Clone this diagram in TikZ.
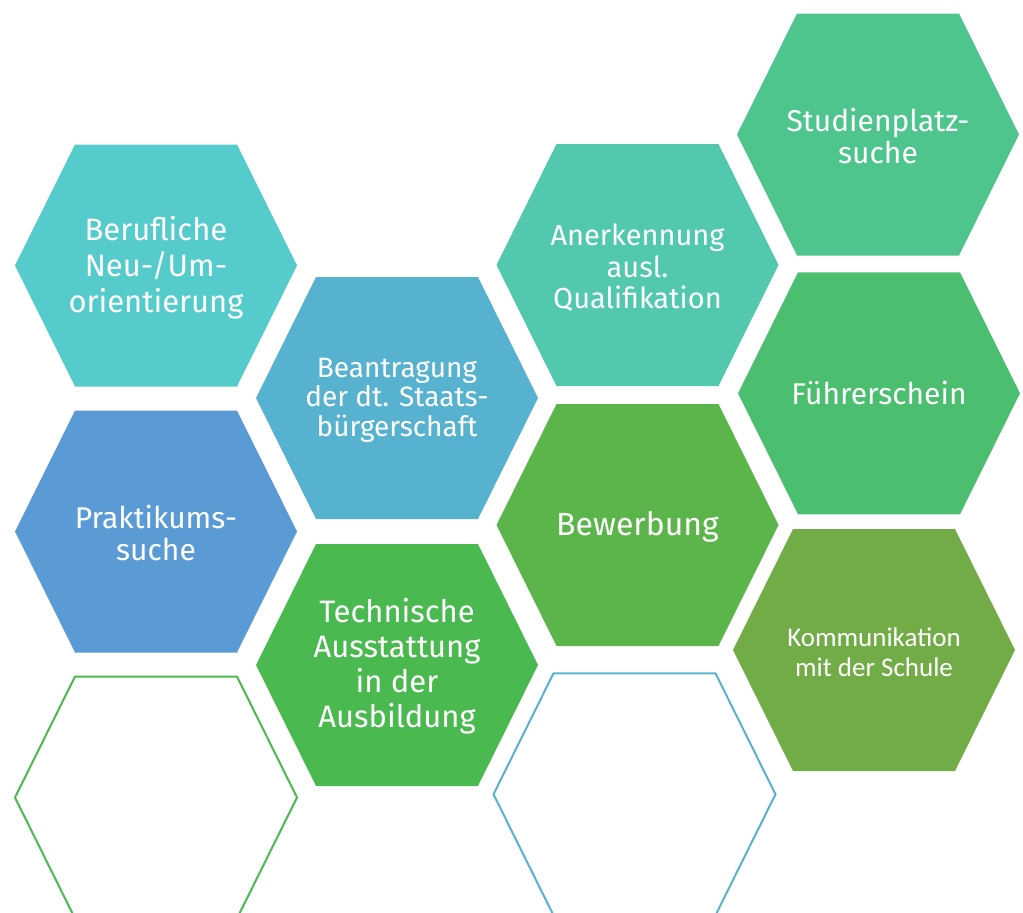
\documentclass[tikz,border=0pt]{standalone}
\usepackage{fontspec}
\newfontfamily\hexfont{Fira Sans}
\newfontfamily\calfont{Carlito}

% one honeycomb cell: centre x, centre y, path style
\newcommand{\honeycell}[3]{%
  \path[#3] (#1-141,#2) -- (#1-81,#2-121) -- (#1+81,#2-121)
    -- (#1+141,#2) -- (#1+81,#2+121) -- (#1-81,#2+121) -- cycle;}

\definecolor{cTeal}{HTML}{55CBCC}
\definecolor{cSky}{HTML}{57B2D0}
\definecolor{cMint}{HTML}{52C9AE}
\definecolor{cSea}{HTML}{4FC58E}
\definecolor{cLeaf}{HTML}{4BBF6F}
\definecolor{cOlive}{HTML}{71AC47}
\definecolor{cBlue}{HTML}{5B9BD5}
\definecolor{cGreen}{HTML}{4ABA50}
\definecolor{cGrass}{HTML}{5CB54A}

\tikzset{
  cellfill/.style={fill=#1},
  cellline/.style={draw=#1, line width=2pt, line join=miter},
  celltext/.style n args={2}{text=white, align=center, inner sep=0pt,
    font=\hexfont\fontsize{#1}{#2}\selectfont},
  schooltext/.style n args={2}{text=white, align=center, inner sep=0pt,
    font=\calfont\fontsize{#1}{#2}\selectfont},
}

\begin{document}
\begin{tikzpicture}[x=1pt, y=-1pt]
  \useasboundingbox (0,0) rectangle (1023,913);
  \clip (0,0) rectangle (1023,913);

  % filled cells
  \honeycell{156}{265.5}{cellfill=cTeal}
  \honeycell{156}{531.5}{cellfill=cBlue}
  \honeycell{397}{398}{cellfill=cSky}
  \honeycell{397}{665}{cellfill=cGreen}
  \honeycell{637.5}{265}{cellfill=cMint}
  \honeycell{637.5}{525}{cellfill=cGrass}
  \honeycell{878}{134.5}{cellfill=cSea}
  \honeycell{879}{393.3}{cellfill=cLeaf}
  \honeycell{874}{650}{cellfill=cOlive}

  % empty outlined cells
  \honeycell{156}{797.5}{cellline=cGreen}
  \honeycell{634.5}{794.3}{cellline=cSky}

  % labels
  \node[celltext={31}{36}] (beruf) at (156,268)
    {Berufliche\\Neu-/Um-\\orientierung};
  \node[celltext={28}{29.5}] (staat) at (397,400)
    {Beantragung\\der dt. Staats-\\bürgerschaft};
  \node[celltext={29}{31.5}] (anerk) at (637.5,268)
    {Anerkennung\\ausl.\\Qualifikation};
  \node[celltext={30}{32}] (studium) at (878,136)
    {Studienplatz-\\suche};
  \node[celltext={30}{32}] (fuehrer) at (879,393)
    {Führerschein};
  \node[celltext={30}{32}] (praktikum) at (156,533)
    {Praktikums-\\suche};
  \node[celltext={31}{35}] (technik) at (397,666)
    {Technische\\Ausstattung\\in der\\Ausbildung};
  \node[celltext={32}{35}] (bewerb) at (637.5,527)
    {Bewerbung};
  \node[schooltext={27}{30}] (schule) at (874,652)
    {Kommunikation\\mit der Schule};
\end{tikzpicture}
\end{document}
